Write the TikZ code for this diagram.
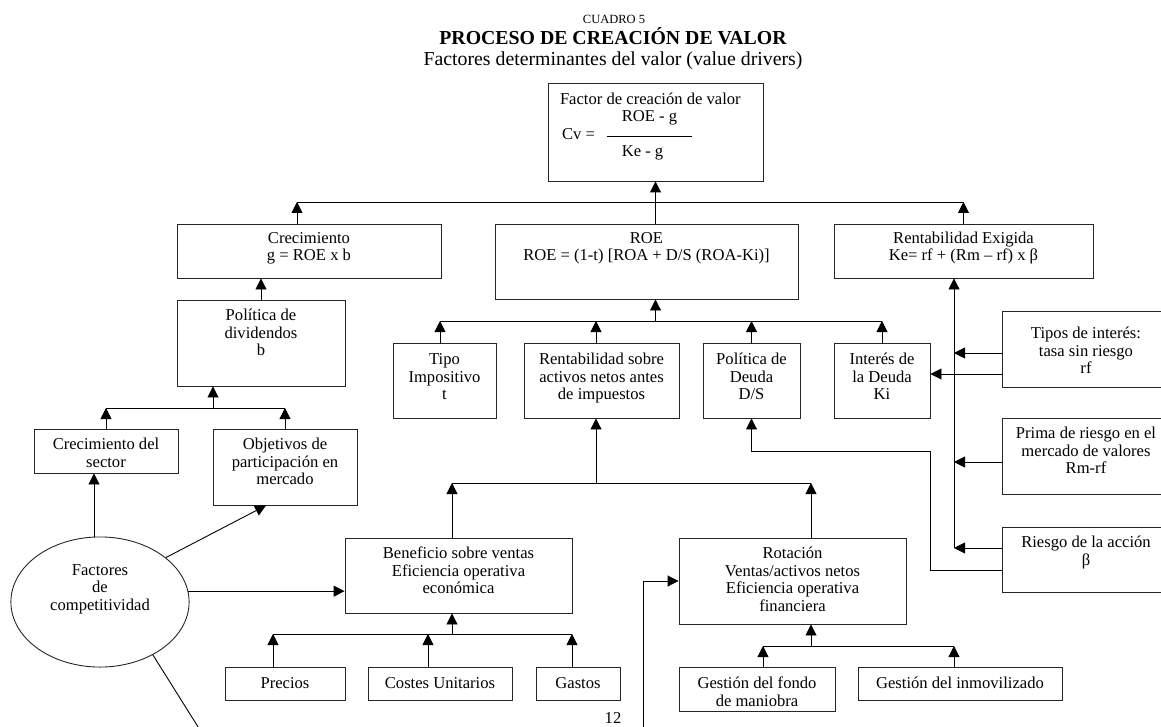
\documentclass[tikz,border=0pt]{standalone}
\usepackage{fontspec}
\setmainfont{Liberation Serif}
\usetikzlibrary{arrows.meta,shapes.geometric}
% boxed text: [first baseline]{width}{height}{lines}
\newcommand{\boxtext}[4][20.5pt]{\parbox[c][#3][t]{#2}{\centering\rule{0pt}{#1}#4}}

\begin{document}
\begin{tikzpicture}[x=1pt,y=-1pt,line width=0.9pt,
	>={Triangle[length=11pt,width=11pt]},
	font=\fontsize{16.6}{17.5}\selectfont,
	box/.style={draw=black!85,inner sep=0pt},
	titletext/.style={anchor=base,inner sep=0pt}]
	\useasboundingbox (0,0) rectangle (1161,727);
	% titles
	\node[titletext,font=\fontsize{12.5}{14}\selectfont] (cuadro) at (614,24) {CUADRO 5};
	\node[titletext,font=\fontsize{19.8}{22}\selectfont\bfseries] (titulo) at (613,44.5) {PROCESO DE CREACIÓN DE VALOR};
	\node[titletext,font=\fontsize{19.8}{22}\selectfont] (subtitulo) at (613,66) {Factores determinantes del valor (value drivers)};
	% boxes
	\node[box] (cv) at (655.5,132) {\parbox[c][98pt][t]{215pt}{\rule{0pt}{21.5pt}\hspace*{12pt}Factor de creación de valor\\
		\hspace*{59pt}\makebox[85pt]{ROE - g}\\
		\hspace*{14pt}\makebox[45pt][l]{Cv =}\rule[2.5pt]{85pt}{0.8pt}\\
		\hspace*{52pt}\makebox[85pt]{Ke - g}}};
	\node[box] (crec) at (309,251) {\boxtext[19.5pt]{264pt}{54pt}{Crecimiento\\g = ROE x b}};
	\node[box] (roe) at (646.5,261.5) {\boxtext[19.5pt]{303pt}{75pt}{ROE\\ROE = (1-t) [ROA + D/S (ROA-Ki)]}};
	\node[box] (rexig) at (963.5,251) {\boxtext[19.5pt]{259pt}{54pt}{Rentabilidad Exigida\\Ke= rf + (Rm – rf) x β}};
	\node[box] (poldiv) at (261,343) {\boxtext{168pt}{86pt}{Política de\\dividendos\\b}};
	\node[box] (tipo) at (444.5,380.5) {\boxtext[21.5pt]{103pt}{75pt}{Tipo\\Impositivo\\t}};
	\node[box] (rsa) at (601.5,380.5) {\boxtext[21.5pt]{155pt}{75pt}{Rentabilidad sobre\\activos netos antes\\de impuestos}};
	\node[box] (pdeuda) at (751.5,380.5) {\boxtext[21.5pt]{97pt}{75pt}{Política de\\Deuda\\D/S}};
	\node[box] (ideuda) at (882,380.5) {\boxtext[21.5pt]{96pt}{75pt}{Interés de\\la Deuda\\Ki}};
	\node[box] (tipos) at (1086,349) {\boxtext[27.5pt]{168pt}{76pt}{Tipos de interés:\\tasa sin riesgo\\rf}};
	\node[box] (prima) at (1086,456) {\boxtext{168pt}{76pt}{Prima de riesgo en el\\mercado de valores\\Rm-rf}};
	\node[box] (riesgo) at (1086,559.5) {\boxtext{168pt}{65pt}{Riesgo de la acción\\β}};
	\node[box] (csector) at (106,451) {\boxtext{144pt}{44pt}{Crecimiento del\\sector}};
	\node[box] (objet) at (285,467) {\boxtext{144pt}{76pt}{Objetivos de\\participación en\\mercado}};
	\node[box,ellipse] (factores) at (100,602) {\boxtext[19pt]{126pt}{92pt}{Factores\\de\\competitividad}};
	\node[box] (benef) at (458.5,575.5) {\boxtext{227pt}{75pt}{Beneficio sobre ventas\\Eficiencia operativa\\económica}};
	\node[box] (rot) at (792.5,581) {\boxtext{227pt}{86pt}{Rotación\\Ventas/activos netos\\Eficiencia operativa\\financiera}};
	\node[box] (precios) at (285,683.5) {\boxtext[21.5pt]{120pt}{33pt}{Precios}};
	\node[box] (costes) at (440,683.5) {\boxtext[21.5pt]{144pt}{33pt}{Costes Unitarios}};
	\node[box] (gastos) at (578,683.5) {\boxtext[21.5pt]{84pt}{33pt}{Gastos}};
	\node[box] (gfondo) at (757,689) {\boxtext[21.5pt]{156pt}{44pt}{Gestión del fondo\\de maniobra}};
	\node[box] (ginmov) at (960,683.5) {\boxtext[21.5pt]{204pt}{33pt}{Gestión del inmovilizado}};
	\node[titletext] (pag) at (613,723) {12};
	% bus levels and free ends
	\coordinate (b1) at (0,202);
	\coordinate (b2) at (0,321);
	\coordinate (b3) at (0,408);
	\coordinate (b4) at (0,483);
	\coordinate (b5) at (0,634);
	\coordinate (b6) at (0,646);
	\coordinate (cut1) at (200,730);
	\coordinate (cut2) at (643,730);
	\coordinate (kx) at ([xshift=-9.5pt]rexig.south);
	\coordinate (kink) at (930,451);
	% value creation factor
	\draw[->] ([xshift=-12pt]crec.north) -- ([xshift=-12pt]crec.north |- b1);
	\draw[->] (rexig.north) -- (rexig.north |- b1);
	\draw ([xshift=-12pt]crec.north |- b1) -- (rexig.north |- b1);
	\draw[->] (roe.north -| cv.south) -- (cv.south);
	% ROE
	\draw[->] ([xshift=-4.5pt]tipo.north) -- ([xshift=-4.5pt]tipo.north |- b2);
	\draw[->] ([xshift=-5.5pt]rsa.north) -- ([xshift=-5.5pt]rsa.north |- b2);
	\draw[->] (pdeuda.north) -- (pdeuda.north |- b2);
	\draw[->] (ideuda.north) -- (ideuda.north |- b2);
	\draw ([xshift=-4.5pt]tipo.north |- b2) -- (ideuda.north |- b2);
	\draw[->] (cv.south |- b2) -- (cv.south |- roe.south);
	% growth
	\draw[->] (poldiv.north) -- (poldiv.north |- crec.south);
	\draw[->] (csector.north) -- (csector.north |- b3);
	\draw[->] (objet.north) -- (objet.north |- b3);
	\draw (csector.north |- b3) -- (objet.north |- b3);
	\draw[->] ([xshift=-48pt]poldiv.south |- b3) -- ([xshift=-48pt]poldiv.south);
	% competitiveness
	\draw[->] ([xshift=-12pt]csector.south |- factores.north) -- ([xshift=-12pt]csector.south);
	\draw[->] (factores.34) -- ([xshift=-19pt]objet.south);
	\draw[->] (factores.7) -- (factores.7 -| benef.west);
	\draw (factores.-45) -- (cut1);
	% return on assets
	\draw[->] ([xshift=-6.5pt]benef.north) -- ([xshift=-6.5pt]benef.north |- b4);
	\draw[->] ([xshift=18.5pt]rot.north) -- ([xshift=18.5pt]rot.north |- b4);
	\draw ([xshift=-6.5pt]benef.north |- b4) -- ([xshift=18.5pt]rot.north |- b4);
	\draw[->] ([xshift=-5.5pt]rsa.south |- b4) -- ([xshift=-5.5pt]rsa.south);
	% margin
	\draw[->] ([xshift=-12pt]precios.north) -- ([xshift=-12pt]precios.north |- b5);
	\draw[->] ([xshift=-12pt]costes.north) -- ([xshift=-12pt]costes.north |- b5);
	\draw[->] ([xshift=-6pt]gastos.north) -- ([xshift=-6pt]gastos.north |- b5);
	\draw ([xshift=-12pt]precios.north |- b5) -- ([xshift=-6pt]gastos.north |- b5);
	\draw[->] ([xshift=-6.5pt]benef.south |- b5) -- ([xshift=-6.5pt]benef.south);
	% turnover
	\draw[->] ([xshift=6pt]gfondo.north) -- ([xshift=6pt]gfondo.north |- b6);
	\draw[->] ([xshift=-6pt]ginmov.north) -- ([xshift=-6pt]ginmov.north |- b6);
	\draw ([xshift=6pt]gfondo.north |- b6) -- ([xshift=-6pt]ginmov.north |- b6);
	\draw[->] ([xshift=18.5pt]rot.south |- b6) -- ([xshift=18.5pt]rot.south);
	\draw[->] (cut2) |- (rot.west);
	% required return
	\draw[->] ([yshift=11.5pt]riesgo.west -| kx) -- (kx);
	\draw[->] ([yshift=-4pt]tipos.west) -- ([yshift=-4pt]tipos.west -| kx);
	\draw[->] ([yshift=-25pt]tipos.west) -- ([yshift=-25pt]tipos.west -| ideuda.east);
	\draw[->] ([yshift=-6pt]prima.west) -- ([yshift=-6pt]prima.west -| kx);
	\draw[->] ([yshift=11.5pt]riesgo.west) -- ([yshift=11.5pt]riesgo.west -| kx);
	\draw[->] ([yshift=-10.5pt]riesgo.west) -| (kink) -| (pdeuda.south);
\end{tikzpicture}
\end{document}
